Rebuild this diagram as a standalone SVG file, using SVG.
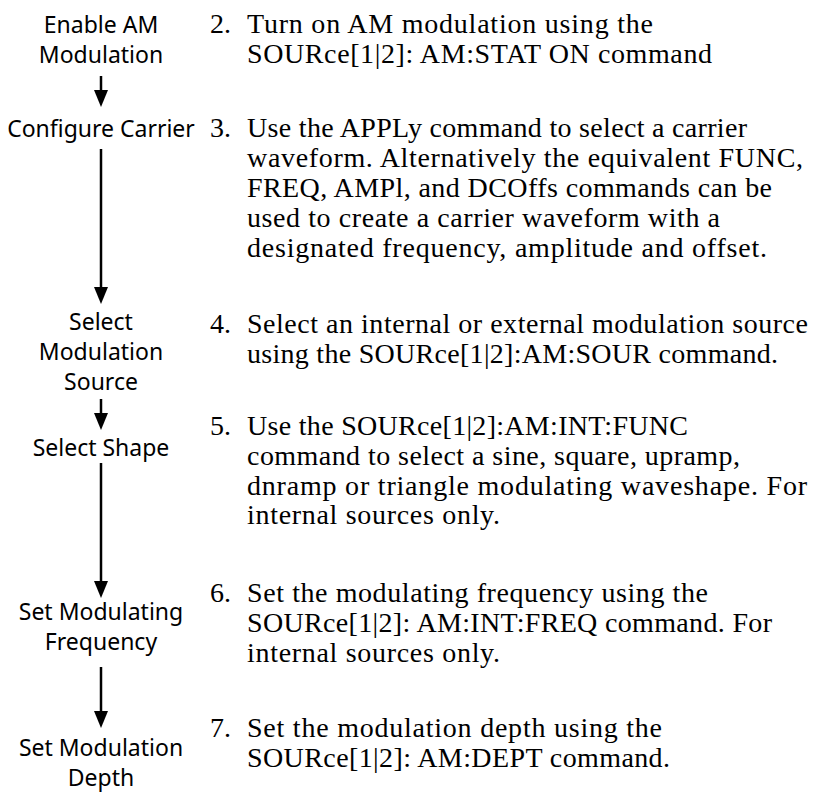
<svg xmlns="http://www.w3.org/2000/svg" width="814" height="792" viewBox="0 0 814 792">
<style>
.lbl{font-family:"Noto Sans","Open Sans",sans-serif;font-size:23px;fill:#000;text-anchor:middle}
.txt{font-family:"Liberation Serif","Times New Roman",serif;font-size:28px;fill:#000}
.conn{stroke:#000;stroke-width:2.5;fill:none}
.head{fill:#000}
</style>
<g id="n1"><text class="lbl" x="101" y="33">Enable AM</text><text class="lbl" x="101" y="63">Modulation</text></g>
<g id="n2"><text class="lbl" x="101" y="137">Configure Carrier</text></g>
<g id="n3"><text class="lbl" x="101" y="330">Select</text><text class="lbl" x="101" y="360">Modulation</text><text class="lbl" x="101" y="390">Source</text></g>
<g id="n4"><text class="lbl" x="101" y="456">Select Shape</text></g>
<g id="n5"><text class="lbl" x="101" y="620">Set Modulating</text><text class="lbl" x="101" y="650">Frequency</text></g>
<g id="n6"><text class="lbl" x="101" y="756">Set Modulation</text><text class="lbl" x="101" y="786">Depth</text></g>
<g id="connectors">
<line class="conn" x1="101" y1="76" x2="101" y2="93"/><path class="head" d="M94,90 L108,90 L101,107 Z"/>
<line class="conn" x1="101" y1="149" x2="101" y2="290"/><path class="head" d="M94,287 L108,287 L101,304 Z"/>
<line class="conn" x1="101" y1="399" x2="101" y2="416"/><path class="head" d="M94,413 L108,413 L101,430 Z"/>
<line class="conn" x1="101" y1="463" x2="101" y2="584"/><path class="head" d="M94,581 L108,581 L101,598 Z"/>
<line class="conn" x1="101" y1="667" x2="101" y2="714"/><path class="head" d="M94,711 L108,711 L101,728 Z"/>
</g>
<g id="steps" class="txt">
<text x="210" y="33">2.</text><text x="247" y="33" textLength="406">Turn on AM modulation using the</text>
<text x="247" y="63" textLength="465">SOURce[1|2]: AM:STAT ON command</text>
<text x="210" y="137">3.</text><text x="247" y="137" textLength="500">Use the APPLy command to select a carrier</text>
<text x="247" y="167" textLength="556">waveform. Alternatively the equivalent FUNC,</text>
<text x="247" y="197" textLength="525">FREQ, AMPl, and DCOffs commands can be</text>
<text x="247" y="227" textLength="473">used to create a carrier waveform with a</text>
<text x="247" y="257" textLength="520">designated frequency, amplitude and offset.</text>
<text x="210" y="333">4.</text><text x="247" y="333" textLength="561">Select an internal or external modulation source</text>
<text x="247" y="363" textLength="531">using the SOURce[1|2]:AM:SOUR command.</text>
<text x="210" y="435">5.</text><text x="247" y="435" textLength="441">Use the SOURce[1|2]:AM:INT:FUNC</text>
<text x="247" y="465" textLength="493">command to select a sine, square, upramp,</text>
<text x="247" y="495" textLength="560">dnramp or triangle modulating waveshape. For</text>
<text x="247" y="524" textLength="253">internal sources only.</text>
<text x="210" y="602">6.</text><text x="247" y="602" textLength="461">Set the modulating frequency using the</text>
<text x="247" y="632" textLength="525">SOURce[1|2]: AM:INT:FREQ command. For</text>
<text x="247" y="662" textLength="253">internal sources only.</text>
<text x="210" y="737">7.</text><text x="247" y="737" textLength="415">Set the modulation depth using the</text>
<text x="247" y="767" textLength="423">SOURce[1|2]: AM:DEPT command.</text>
</g>
</svg>
